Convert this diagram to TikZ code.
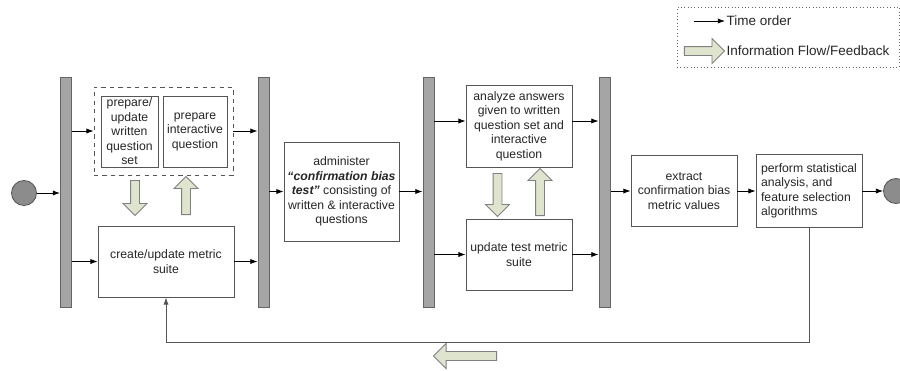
\documentclass[tikz,border=0pt]{standalone}
\usepackage{fontspec}
\setmainfont{Liberation Sans}
\usetikzlibrary{arrows.meta,positioning,shapes.arrows}
\definecolor{flowBar}{RGB}{165,165,165}
\definecolor{flowBarEdge}{RGB}{100,100,100}
\definecolor{flowDot}{RGB}{140,140,140}
\definecolor{flowEdge}{RGB}{85,85,85}
\definecolor{flowSage}{RGB}{222,228,205}
\newcommand{\pxu}{0.025cm}

\begin{document}
\begin{tikzpicture}[
  x=0.025cm, y=-0.025cm,
  every node/.style={font=\fontsize{8.7}{10.3}\selectfont, text=black!85},
  task/.style={
    draw=flowEdge,
    fill=white,
    line width=0.6pt,
    inner sep=1pt,
    align=center
  },
  syncbar/.style={draw=flowBarEdge, fill=flowBar, line width=0.7pt,
    inner sep=0, minimum width=11*\pxu, minimum height=230*\pxu},
  terminal/.style={circle, draw=flowEdge, fill=flowDot, line width=0.6pt,
    inner sep=0, minimum size=25*\pxu},
  fat/.style={single arrow, draw=black!50, fill=flowSage, line width=0.6pt,
    inner sep=4*\pxu, minimum width=23*\pxu, single arrow head extend=7.5*\pxu},
  arrow/.style={-{Latex[length=1.8mm,width=1.3mm]},line width=0.6pt}
]
  \useasboundingbox (0,0) rectangle (900,370);

  \node[terminal] (start) at (24,193) {};
  \node[syncbar] (bar1) at (66,192.5) {};
  \node[syncbar] (bar2) at (263.5,192.5) {};
  \node[syncbar] (bar3) at (428.5,192.5) {};
  \node[syncbar] (bar4) at (604.5,192.5) {};
  \node[terminal] (finish) at (896,191) {};

  \node[draw=flowEdge, dashed, line width=0.6pt,
    minimum width=139*\pxu, minimum height=88*\pxu] (grp) at (163.5,131) {};
  \node[task, minimum width=57*\pxu, minimum height=71*\pxu] (prepWritten)
    at (129.5,131.5) {prepare/\\update\\written\\question\\set};
  \node[task, minimum width=64*\pxu, minimum height=71*\pxu] (prepInter)
    at (195,131.5) {prepare\\interactive\\question};
  \node[task, minimum width=136*\pxu, minimum height=71*\pxu] (create)
    at (166,261.5) {create/update metric\\suite};
  \node[task, minimum width=115*\pxu, minimum height=99*\pxu] (admin)
    at (341.5,191.5) {administer\\\textbf{\textit{“confirmation bias}}\\
    \textbf{\textit{test”}} consisting of\\written \& interactive\\questions};
  \node[task, minimum width=106*\pxu, minimum height=82*\pxu] (analyze)
    at (519,126) {analyze answers\\given to written\\question set and\\interactive\\question};
  \node[task, minimum width=106*\pxu, minimum height=71*\pxu] (update)
    at (519,254.5) {update test metric\\suite};
  \node[task, minimum width=106*\pxu, minimum height=71*\pxu] (extract)
    at (684,191) {extract\\confirmation bias\\metric values};
  \node[task, align=left, minimum width=106*\pxu, minimum height=73*\pxu] (perform)
    at (809,191) {perform statistical\\analysis, and\\feature selection\\algorithms};

  \node[fat, shape border rotate=270, minimum height=35*\pxu, anchor=tail] (feedDownA) at (135,180) {};
  \node[fat, shape border rotate=90, minimum height=38*\pxu, anchor=tail] (feedUpA) at (186,215) {};
  \node[fat, shape border rotate=270, minimum height=43*\pxu, anchor=tail] (feedDownB) at (497.5,173) {};
  \node[fat, shape border rotate=90, minimum height=47*\pxu, anchor=tail] (feedUpB) at (540,216) {};
  \node[fat, shape border rotate=180, minimum height=63*\pxu, minimum width=25*\pxu,
    single arrow head extend=8*\pxu, anchor=tail] (feedBack) at (497,356) {};

  \draw[arrow] (start) -- (start -| bar1.west);
  \draw[arrow] (bar1.east |- grp.west) -- (grp.west);
  \draw[arrow] (grp.east) -- (grp.east -| bar2.west);
  \draw[arrow] (bar1.east |- create.west) -- (create.west);
  \draw[arrow] (create.east) -- (create.east -| bar2.west);
  \draw[arrow] (bar2.east |- admin.west) -- (admin.west);
  \draw[arrow] (admin.east) -- (admin.east -| bar3.west);
  \draw[arrow] ([yshift=5*\pxu]bar3.east |- analyze.west) -- ([yshift=5*\pxu]analyze.west);
  \draw[arrow] ([yshift=5*\pxu]analyze.east) -- ([yshift=5*\pxu]analyze.east -| bar4.west);
  \draw[arrow] (bar3.east |- update.west) -- (update.west);
  \draw[arrow] (update.east) -- (update.east -| bar4.west);
  \draw[arrow] (bar4.east |- extract.west) -- (extract.west);
  \draw[arrow] (extract.east) -- (perform.west);
  \draw[arrow] (perform.east) -- (finish.west);

  \coordinate (loopLevel) at (0,342);
  \draw[arrow, draw=flowEdge] (perform.south) -- (perform.south |- loopLevel)
    -- (create.south |- loopLevel) -- (create.south);

  \node[draw=black!60, dotted, minimum width=222*\pxu, minimum height=60*\pxu] (legend)
    at (788,37) {};
  \node[anchor=west, inner sep=1pt, font=\fontsize{9.6}{11}\selectfont] (timeText)
    at (725,21) {Time order};
  \node[anchor=west, inner sep=1pt, font=\fontsize{9.6}{11}\selectfont] (flowText)
    at (725,51) {Information Flow/Feedback};
  \coordinate (timeStart) at (694,21);
  \draw[arrow] (timeStart) -- (timeText.west);
  \node[fat, minimum height=40*\pxu, minimum width=24*\pxu, single arrow head extend=8*\pxu,
    anchor=tip] (flowKey) at (flowText.west) {};
\end{tikzpicture}
\end{document}
